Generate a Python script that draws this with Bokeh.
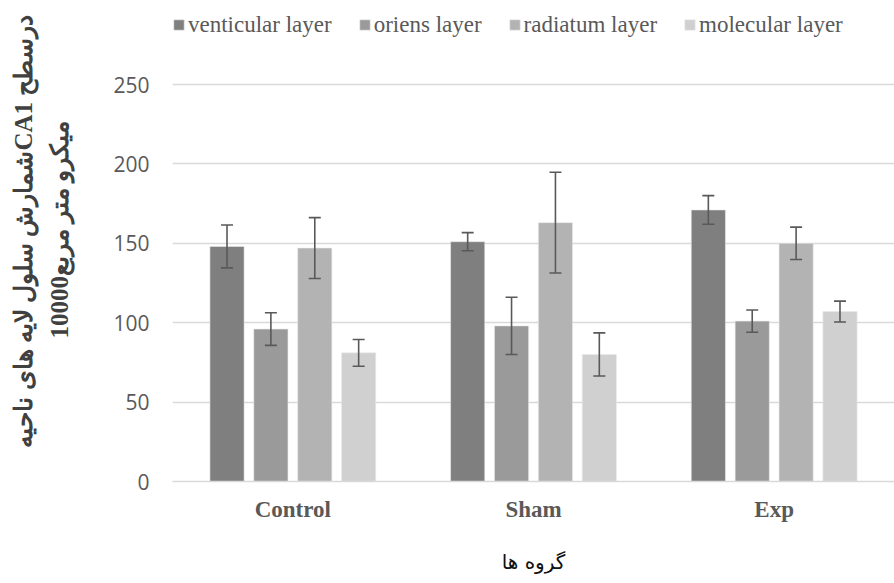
from bokeh.plotting import figure
from bokeh.models import (ColumnDataSource, Range1d, FixedTicker, Legend, LegendItem,
                          Whisker, TeeHead, Title)
from bokeh.embed import file_html
from bokeh.resources import INLINE

# ---------------- data ----------------
groups = ["Control", "Sham", "Exp"]
layers = ["venticular layer", "oriens layer", "radiatum layer", "molecular layer"]
venticular = [148, 151, 171]
oriens = [96, 98, 101]
radiatum = [147, 163, 150]
molecular = [81, 80, 107]
venticular_err = [13.5, 5.7, 9.0]
oriens_err = [10.3, 18.0, 7.0]
radiatum_err = [19.2, 31.7, 10.2]
molecular_err = [8.4, 13.6, 6.6]
y_ticks = [0, 50, 100, 150, 200, 250]
y_title_1 = "شمارش سلول لایه های  ناحیهCA1 درسطح"
y_title_2 = "10000میکرو متر مربع"
x_title = "گروه ها"

# ---------------- styles ----------------
colors = ["#7f7f7f", "#9a9a9a", "#b3b3b3", "#d0d0d0"]
offsets = [-0.2735, -0.0912, 0.0912, 0.2735]
bar_w = 0.142
grey_txt = "#595959"
y_top = 302.9   # head-room above 250 so the legend sits inside the frame

p = figure(width=894, height=583, output_backend="svg", toolbar_location=None,
           x_range=Range1d(0, len(groups)), y_range=Range1d(0, y_top),
           min_border_left=172, min_border_right=0, min_border_top=0, min_border_bottom=102)
p.outline_line_color = None
p.background_fill_color = "white"

series = [venticular, oriens, radiatum, molecular]
errs = [venticular_err, oriens_err, radiatum_err, molecular_err]
renderers = []
for j, (vals, er) in enumerate(zip(series, errs)):
    xs = [i + 0.5 + offsets[j] for i in range(len(groups))]
    src = ColumnDataSource(dict(x=xs, top=vals,
                                upper=[v + e for v, e in zip(vals, er)],
                                lower=[v - e for v, e in zip(vals, er)]))
    r = p.vbar(x="x", top="top", width=bar_w, bottom=0, source=src,
               fill_color=colors[j], line_color="#eaeaea", line_width=0.6)
    renderers.append(r)
    w = Whisker(base="x", upper="upper", lower="lower", source=src, dimension="height",
                line_color="#595959", line_width=1.6, level="overlay",
                upper_head=TeeHead(size=12, line_color="#595959", line_width=1.6),
                lower_head=TeeHead(size=12, line_color="#595959", line_width=1.6))
    p.add_layout(w)

# axes
p.xgrid.grid_line_color = None
p.ygrid.grid_line_color = "#d9d9d9"
p.ygrid.grid_line_width = 1.3
p.ygrid.ticker = FixedTicker(ticks=y_ticks)

p.yaxis.ticker = FixedTicker(ticks=y_ticks)
p.yaxis.axis_line_color = None
p.yaxis.major_tick_line_color = None
p.yaxis.minor_tick_line_color = None
p.yaxis.major_label_text_font = "Open Sans"
p.yaxis.major_label_text_font_size = "21px"
p.yaxis.major_label_text_color = grey_txt
p.yaxis.major_label_standoff = 17
# invisible spacer label to widen the axis panel
p.yaxis.axis_label = " "
p.yaxis.axis_label_text_font_size = "2px"
p.yaxis.axis_label_standoff = 24

p.xaxis.ticker = FixedTicker(ticks=[i + 0.5 for i in range(len(groups))])
p.xaxis.major_label_overrides = {i + 0.5: g for i, g in enumerate(groups)}
p.xaxis.axis_line_color = "#d9d9d9"
p.xaxis.axis_line_width = 1.5
p.xaxis.major_tick_line_color = None
p.xaxis.minor_tick_line_color = None
p.xaxis.major_label_text_font = "Liberation Serif"
p.xaxis.major_label_text_font_style = "bold"
p.xaxis.major_label_text_font_size = "23px"
p.xaxis.major_label_text_color = grey_txt
p.xaxis.major_label_standoff = 9
p.xaxis.axis_label = x_title
p.xaxis.axis_label_text_font = "DejaVu Sans"
p.xaxis.axis_label_text_font_style = "normal"
p.xaxis.axis_label_text_font_size = "20px"
p.xaxis.axis_label_text_color = "#111111"
p.xaxis.axis_label_standoff = 25

# y title: two rotated lines (inner line added first)
t2 = Title(text=y_title_2, align="right", offset=120, vertical_align="middle", standoff=15,
           text_font="Liberation Serif", text_font_style="bold", text_font_size="25px",
           text_color="#404040")
t1 = Title(text=y_title_1, align="right", offset=8, vertical_align="middle", standoff=0,
           text_font="Liberation Serif", text_font_style="bold", text_font_size="25px",
           text_color="#404040")
p.add_layout(t2, "left")
p.add_layout(t1, "left")

legend = Legend(items=[LegendItem(label=l, renderers=[r]) for l, r in zip(layers, renderers)],
                orientation="horizontal", location=(0, 443.5),
                glyph_width=13, glyph_height=13, label_standoff=3, spacing=26,
                padding=0, margin=0, border_line_color=None, background_fill_alpha=0,
                label_text_font="Liberation Serif", label_text_font_size="23px",
                label_text_color=grey_txt)
p.add_layout(legend)

open("out.html", "w").write(file_html(p, INLINE))
